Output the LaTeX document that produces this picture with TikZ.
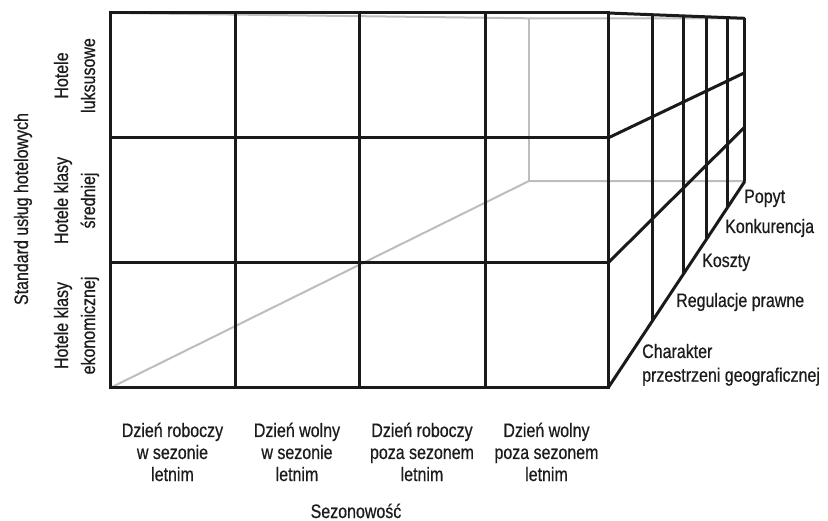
\documentclass[tikz,border=0pt]{standalone}
\usepackage{fontspec}
\setmainfont{Liberation Sans}[FakeStretch=0.82,FakeBold=0.6]
\usetikzlibrary{calc}
\definecolor{ink}{HTML}{1C1C1C}
\definecolor{edgeblack}{HTML}{1A1A1A}
\definecolor{hidden}{HTML}{BDBDBD}
\begin{document}
\begin{tikzpicture}[x=1pt,y=-1pt,
  frontline/.style={draw=edgeblack, line width=3pt, line join=miter},
  hiddenline/.style={draw=hidden, line width=2pt},
  lbl/.style={inner sep=0pt, text=ink, font=\fontsize{19.5}{22}\selectfont},
  collbl/.style={lbl, anchor=base},
  rowlbl/.style={lbl, anchor=base, rotate=90},
  sidelbl/.style={lbl, anchor=base west}]
\useasboundingbox (0,0) rectangle (828,521);

% vanishing point and front corners of the cube
\coordinate (V) at (850,22.4);
\coordinate (FTL) at (110,13);
\coordinate (FTR) at (608,13);
\coordinate (FBL) at (110,388);
\coordinate (FBR) at (608,388);
\coordinate (FMR1) at (608,138);
\coordinate (FMR2) at (608,263);

% back face (depth factor 0.434)
\coordinate (BTL) at ($(V)!0.434!(FTL)$);
\coordinate (BTR) at ($(V)!0.434!(FTR)$);
\coordinate (BBL) at ($(V)!0.434!(FBL)$);
\coordinate (BBR) at ($(V)!0.434!(FBR)$);
\coordinate (BMR1) at ($(V)!0.434!(FMR1)$);
\coordinate (BMR2) at ($(V)!0.434!(FMR2)$);

% hidden edges
\draw[hiddenline] (FTL) -- (BTL) -- (BTR);
\draw[hiddenline] (FBL) -- (BBL) -- (BBR);
\draw[hiddenline] (BTL) -- (BBL);

% front grid: 4 seasons x 3 hotel standards
\draw[frontline] (FTL) rectangle (FBR);
\foreach \x in {235,359,485} \draw[frontline] (\x,13) -- (\x,388);
\foreach \y in {138,263} \draw[frontline] (110,\y) -- (608,\y);

% right side: layers of factors
\draw[frontline] (FTR) -- (BTR);
\draw[frontline] (FBR) -- (BBR);
\draw[frontline] (FMR1) -- (BMR1);
\draw[frontline] (FMR2) -- (BMR2);
\foreach \s in {0.818,0.690,0.595,0.508,0.434}
  \draw[frontline] ($(V)!\s!(FTR)$) -- ($(V)!\s!(FBR)$);

% column labels
\node[collbl] (c1a) at (172.5,437) {Dzień roboczy};
\node[collbl] (c1b) at (172.5,459) {w sezonie};
\node[collbl] (c1c) at (172.5,481) {letnim};
\node[collbl] (c2a) at (297,437) {Dzień wolny};
\node[collbl] (c2b) at (297,459) {w sezonie};
\node[collbl] (c2c) at (297,481) {letnim};
\node[collbl] (c3a) at (422,437) {Dzień roboczy};
\node[collbl] (c3b) at (422,459) {poza sezonem};
\node[collbl] (c3c) at (422,481) {letnim};
\node[collbl] (c4a) at (546.5,437) {Dzień wolny};
\node[collbl] (c4b) at (546.5,459) {poza sezonem};
\node[collbl] (c4c) at (546.5,481) {letnim};
\node[collbl] (season) at (356,518) {Sezonowość};

% row labels
\node[rowlbl] (r1a) at (68,75.5) {Hotele};
\node[rowlbl] (r1b) at (95,75.5) {luksusowe};
\node[rowlbl] (r2a) at (68,200.5) {Hotele klasy};
\node[rowlbl] (r2b) at (95,200.5) {średniej};
\node[rowlbl] (r3a) at (68,325.5) {Hotele klasy};
\node[rowlbl] (r3b) at (95,325.5) {ekonomicznej};
\node[rowlbl] (standard) at (28,209) {Standard usług hotelowych};

% factor labels
\node[sidelbl] (f5) at (744,203) {Popyt};
\node[sidelbl] (f4) at (725,233) {Konkurencja};
\node[sidelbl] (f3) at (702,267) {Koszty};
\node[sidelbl] (f2) at (676,307) {Regulacje prawne};
\node[sidelbl] (f1a) at (642,358) {Charakter};
\node[sidelbl] (f1b) at (642,381.7) {przestrzeni geograficznej};
\end{tikzpicture}
\end{document}
